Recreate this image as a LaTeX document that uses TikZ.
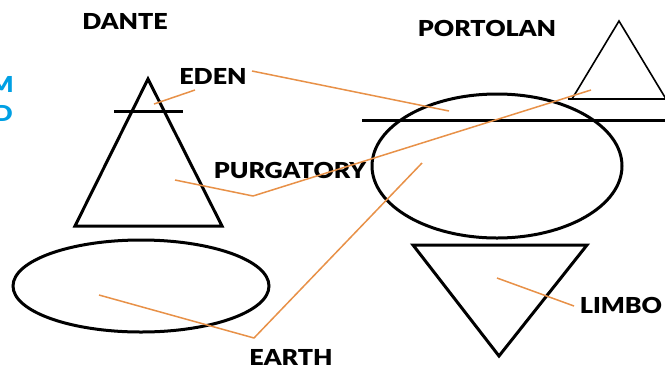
\documentclass[tikz,border=0pt]{standalone}
\usepackage{fontspec}
\newfontfamily\labfont[FakeStretch=1.14]{Lato Black}
\definecolor{lineorange}{RGB}{232,145,72}
\definecolor{sideblue}{RGB}{0,160,228}
\tikzset{
  lab/.style={font=\labfont\fontsize{22}{24}\selectfont, inner sep=0pt, text=black},
  sidelab/.style={lab, text=sideblue},
  outline/.style={draw=black, line width=3pt, line join=miter},
  thinoutline/.style={draw=black, line width=1.6pt},
  leader/.style={draw=lineorange, line width=1.5pt, line join=round}
}
\begin{document}
\begin{tikzpicture}[x=1pt,y=-1pt]
\useasboundingbox (0,0) rectangle (665,368);
\clip (0,0) rectangle (665,368);
\fill[white] (0,0) rectangle (665,368);
% labels
\node[lab] (dante) at (125,21) {DANTE};
\node[lab] (portolan) at (487,28) {PORTOLAN};
\node[lab] (eden) at (213,76) {EDEN};
\node[lab] (purg) at (290,170) {PURGATORY};
\node[lab] (earth) at (291,357) {EARTH};
\node[lab] (limbo) at (621,305) {LIMBO};
\node[sidelab, anchor=east] (sidem) at (14,84) {M};
\node[sidelab, anchor=east] (sided) at (13,113) {D};
% Dante's shapes
\draw[outline] (148,79) -- (75,226) -- (222,226) -- cycle;
\draw[outline] (114,111) -- (183,111);
\draw[outline] (141,286) ellipse [x radius=128, y radius=46];
% Portolan shapes
\draw[thinoutline] (619,21) -- (572,99) -- (666,99) -- cycle;
\draw[thinoutline] (568,99) -- (665,99);
\draw[outline] (497,166) ellipse [x radius=125, y radius=72];
\draw[outline] (362,120) -- (666,120);
\draw[outline] (413,245) -- (587,245) -- (499,356) -- cycle;
% leader coordinates
\coordinate (edenA) at (195,90);
\coordinate (edenB) at (154,104);
\coordinate (edenC) at (252,71);
\coordinate (edenD) at (449,111);
\coordinate (purgA) at (175,180);
\coordinate (purgV) at (253,196);
\coordinate (purgB) at (591,90);
\coordinate (earthA) at (422,163);
\coordinate (earthV) at (254,338);
\coordinate (earthB) at (99,295);
\coordinate (limboA) at (497,278);
\coordinate (limboB) at (574,306);
% leaders
\draw[leader] (edenA) -- (edenB);
\draw[leader] (edenC) -- (edenD);
\draw[leader] (purgA) -- (purgV) -- (purgB);
\draw[leader] (earthA) -- (earthV) -- (earthB);
\draw[leader] (limboA) -- (limboB);
\end{tikzpicture}
\end{document}
